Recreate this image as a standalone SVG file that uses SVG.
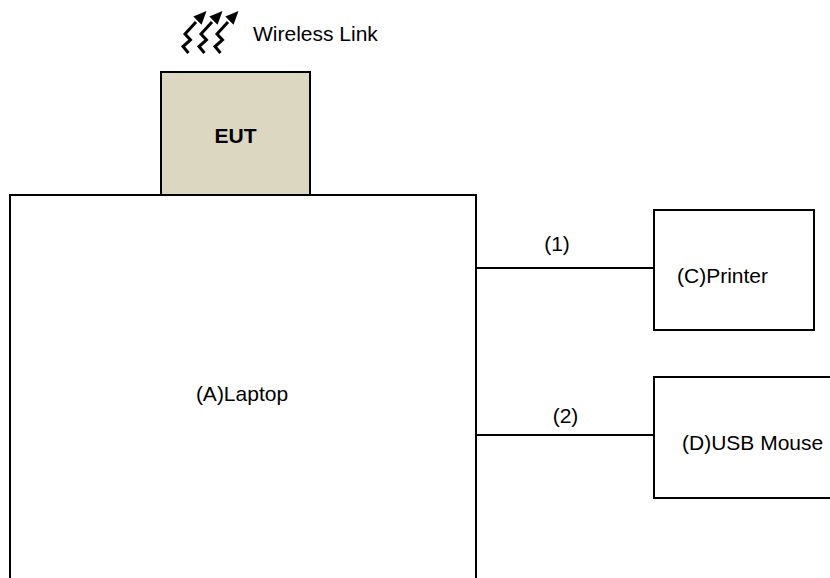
<svg xmlns="http://www.w3.org/2000/svg" width="830" height="578" viewBox="0 0 830 578">
<defs>
<style>
.box{fill:#fff;stroke:#000;stroke-width:2}
.eut{fill:#dcd7c1;stroke:#000;stroke-width:2}
.t{font-family:"Liberation Sans",Arial,sans-serif;font-size:21px;fill:#000}
.conn{stroke:#000;stroke-width:2;fill:none}
.zz{stroke:#000;stroke-width:3;fill:none;stroke-linejoin:miter}
</style>
<g id="zzArrow">
<path class="zz" d="M188.5,53 L183,46.5 L190.5,40 L185,34 L196,22"/>
<polygon points="206.5,11 193.3,16.5 201.5,24.7" fill="#000"/>
</g>
</defs>
<rect width="830" height="578" fill="#fff"/>
<g id="wireless">
<use href="#zzArrow"/>
<use href="#zzArrow" transform="translate(16,0)"/>
<use href="#zzArrow" transform="translate(32,0)"/>
<text class="t" x="253" y="41">Wireless Link</text>
</g>
<g id="laptop">
<rect class="box" x="10" y="195" width="466" height="400"/>
<text class="t" x="242" y="401" text-anchor="middle">(A)Laptop</text>
</g>
<g id="eut">
<rect class="eut" x="161" y="72" width="149" height="123"/>
<text class="t" x="235.5" y="143" text-anchor="middle" font-weight="bold" font-size="26">EUT</text>
</g>
<g id="printer">
<rect class="box" x="654" y="210" width="160" height="120"/>
<text class="t" x="677" y="283">(C)Printer</text>
</g>
<g id="mouse">
<rect class="box" x="654" y="377" width="190" height="121"/>
<text class="t" x="682" y="450">(D)USB Mouse</text>
</g>
<g id="connectors">
<line class="conn" x1="476" y1="268" x2="654" y2="268"/>
<text class="t" x="557" y="251" text-anchor="middle">(1)</text>
<line class="conn" x1="476" y1="435" x2="654" y2="435"/>
<text class="t" x="565.5" y="423" text-anchor="middle">(2)</text>
</g>
</svg>
